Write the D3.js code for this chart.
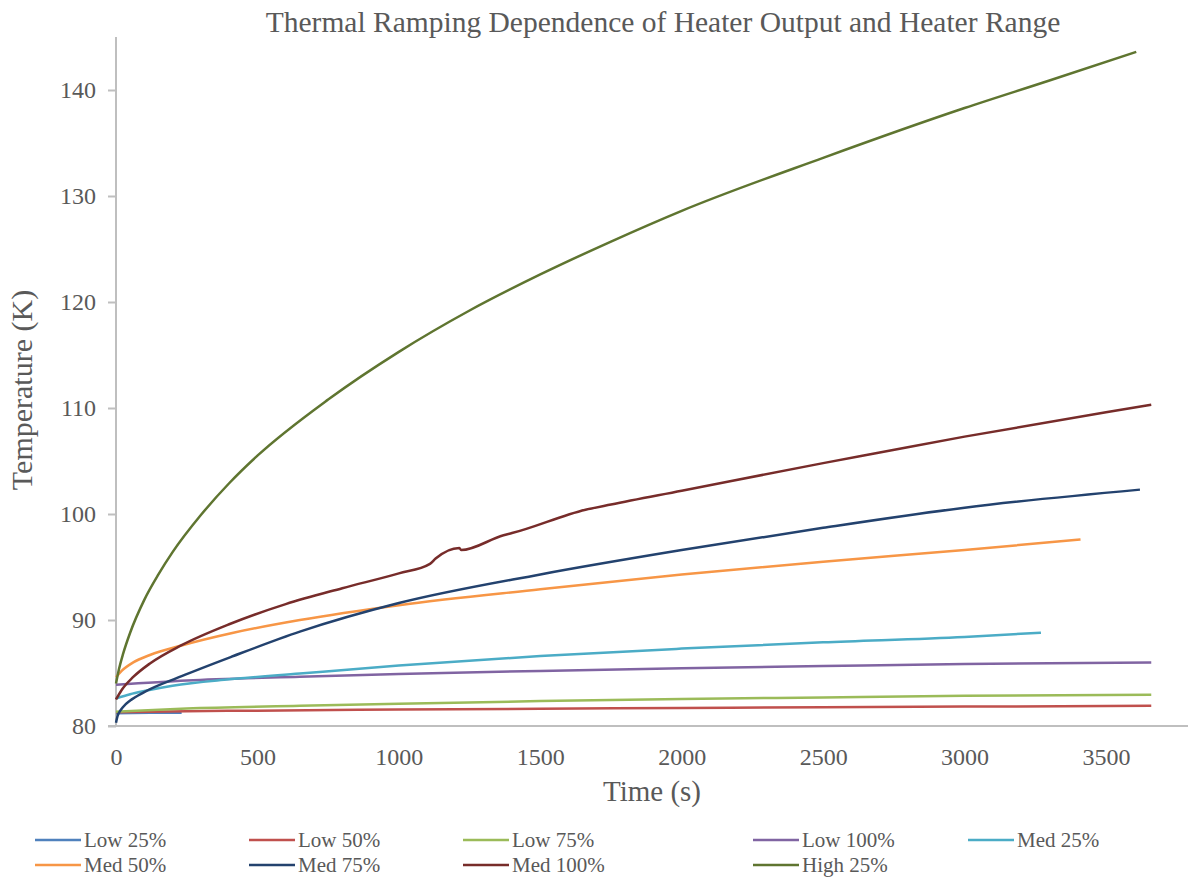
<!DOCTYPE html>
<html lang="en">
<head>
<meta charset="UTF-8"/>
<title>Thermal Ramping Dependence of Heater Output and Heater Range</title>
<script src="https://d3js.org/d3.v7.min.js"></script>
<style>
	body { margin: 0; background: #fff; }
	text { font-family: "Liberation Serif", "DejaVu Serif", serif; fill: #595959; }
	.axis path, .axis line { stroke: #bfbfbf; stroke-width: 2; }
	.line { fill: none; stroke-width: 2.5; stroke-linejoin: round; }
</style>
</head>
<body>
<div id="chart"></div>
<script>
// time (s) and temperature (K) for each run
var low25Time   = [0, 60, 120, 180, 232];
var low25Temp   = [81.2, 81.22, 81.24, 81.25, 81.26];
var low50Time   = [0, 250, 500, 1000, 1500, 2000, 2500, 3000, 3660];
var low50Temp   = [81.3, 81.4, 81.45, 81.55, 81.63, 81.7, 81.77, 81.83, 81.9];
var low75Time   = [0, 250, 650, 1000, 1500, 2000, 2500, 3000, 3660];
var low75Temp   = [81.35, 81.65, 81.9, 82.1, 82.35, 82.55, 82.7, 82.85, 82.95];
var low100Time  = [0, 250, 650, 1000, 1500, 2000, 2500, 3000, 3660];
var low100Temp  = [83.9, 84.3, 84.65, 84.9, 85.2, 85.45, 85.65, 85.85, 86.0];
var med25Time   = [0, 50, 100, 200, 400, 650, 1000, 1500, 2000, 2500, 3000, 3270];
var med25Temp   = [82.6, 83.0, 83.3, 83.8, 84.4, 84.95, 85.7, 86.6, 87.3, 87.9, 88.4, 88.8];
var med50Time   = [0, 20, 61, 120, 232, 415, 650, 1000, 1500, 2000, 2500, 3000, 3410];
var med50Temp   = [84.6, 85.2, 86.0, 86.7, 87.6, 88.8, 90.0, 91.4, 92.9, 94.3, 95.5, 96.6, 97.6];
var med75Time   = [0, 5, 14, 25, 50, 100, 232, 415, 650, 1000, 1500, 2000, 2500, 3000, 3620];
var med75Temp   = [80.3, 80.9, 81.4, 81.8, 82.4, 83.2, 84.7, 86.6, 88.9, 91.6, 94.3, 96.6, 98.7, 100.6, 102.3];
var med100Time  = [0, 20, 60, 120, 230, 400, 600, 800, 1000, 1110, 1130, 1214, 1220, 1370, 1400, 1660, 1750, 2000, 2500, 2700, 3000, 3500, 3660];
var med100Temp  = [82.5, 83.4, 84.6, 85.9, 87.6, 89.6, 91.5, 93.0, 94.4, 95.3, 95.8, 96.8, 96.6, 98.0, 98.2, 100.4, 100.9, 102.2, 104.8, 105.8, 107.3, 109.6, 110.3];
var high25Time  = [0, 10, 25, 50, 100, 150, 200, 300, 400, 500, 750, 1000, 1250, 1500, 1750, 2000, 2500, 3000, 3300, 3607];
var high25Temp  = [84.0, 85.3, 86.8, 88.8, 91.9, 94.3, 96.4, 99.9, 102.9, 105.5, 110.8, 115.3, 119.2, 122.6, 125.7, 128.6, 133.6, 138.3, 140.9, 143.6];

var names  = ["Low 25%", "Low 50%", "Low 75%", "Low 100%", "Med 25%", "Med 50%", "Med 75%", "Med 100%", "High 25%"];
var colors = ["#4f81bd", "#c0504d", "#9bbb59", "#8064a2", "#4bacc6", "#f79646", "#23426e", "#772c2a", "#5f7530"];
var times  = [low25Time, low50Time, low75Time, low100Time, med25Time, med50Time, med75Time, med100Time, high25Time];
var temps  = [low25Temp, low50Temp, low75Temp, low100Temp, med25Temp, med50Temp, med75Temp, med100Temp, high25Temp];
var xTicks = [0, 500, 1000, 1500, 2000, 2500, 3000, 3500];
var yTicks = [80, 90, 100, 110, 120, 130, 140];

var w = 1188, h = 877;
var svg = d3.select("#chart").append("svg").attr("width", w).attr("height", h);

var xScale = d3.scaleLinear().domain([0, 3500]).range([116, 1106]);
var yScale = d3.scaleLinear().domain([80, 140]).range([726, 90]);

// title
svg.append("text").attr("x", 663).attr("y", 32).attr("text-anchor", "middle")
	.style("font-size", "29.5px").text("Thermal Ramping Dependence of Heater Output and Heater Range");

// y axis
var yAxis = d3.axisLeft(yScale).tickValues(yTicks).tickSize(8).tickPadding(12);
var gy = svg.append("g").attr("class", "axis").attr("transform", "translate(116,0)").call(yAxis);
gy.select(".domain").remove();
gy.append("line").attr("x1", 0).attr("x2", 0).attr("y1", 37).attr("y2", 726);
gy.selectAll(".tick text").style("font-size", "24px").style("fill", "#595959");

// x axis
var xAxis = d3.axisBottom(xScale).tickValues(xTicks).tickFormat(d3.format("d")).tickSize(0).tickPadding(22);
var gx = svg.append("g").attr("class", "axis").attr("transform", "translate(0,726)").call(xAxis);
gx.select(".domain").remove();
gx.append("line").attr("x1", 108).attr("x2", 1188).attr("y1", 0).attr("y2", 0);
gx.selectAll(".tick text").style("font-size", "24px").style("fill", "#595959");

// axis titles
svg.append("text").attr("x", 652).attr("y", 801).attr("text-anchor", "middle")
	.style("font-size", "29px").text("Time (s)");
svg.append("text").attr("transform", "translate(32,390) rotate(-90)").attr("text-anchor", "middle")
	.style("font-size", "30px").text("Temperature (K)");

// lines
var line = d3.line()
	.x(function(d){ return xScale(d[0]); })
	.y(function(d){ return yScale(d[1]); })
	.curve(d3.curveMonotoneX);

names.forEach(function(n, i){
	var pts = times[i].map(function(t, j){ return [t, temps[i][j]]; });
	svg.append("path").attr("class", "line")
		.attr("d", line(pts))
		.style("stroke", colors[i]);
});

// legend
var colX = [35, 249, 463, 753, 968];
names.forEach(function(n, i){
	var cx = colX[i % 5];
	var cy = i < 5 ? 840 : 865;
	svg.append("line").attr("x1", cx).attr("x2", cx + 46).attr("y1", cy).attr("y2", cy)
		.style("stroke", colors[i]).style("stroke-width", 2.5);
	svg.append("text").attr("x", cx + 49).attr("y", cy + 7).style("font-size", "21px").text(n);
});
</script>
</body>
</html>
